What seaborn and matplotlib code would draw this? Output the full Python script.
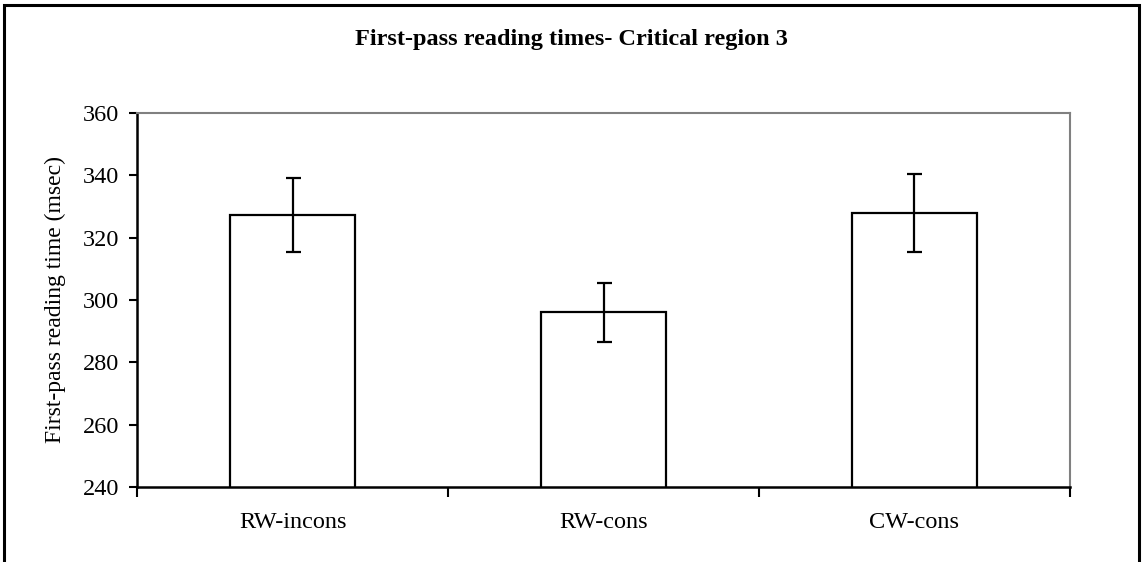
import seaborn as sns
import matplotlib.pyplot as plt
import pandas as pd
from matplotlib.patches import Rectangle
from matplotlib.ticker import FixedLocator

conditions = ['RW-incons', 'RW-cons', 'CW-cons']
means = [327.2, 296.0, 328.0]
errors = [11.8, 9.6, 12.5]

sns.set_style('white')
plt.rcParams['font.family'] = ['Liberation Serif', 'DejaVu Serif']
plt.rcParams.update({'text.color': 'black', 'axes.labelcolor': 'black',
                     'xtick.color': 'black', 'ytick.color': 'black'})

df = pd.DataFrame({'condition': conditions, 'time': means})

fig = plt.figure(figsize=(11.43, 5.62), dpi=100)
ax = fig.add_axes([0.1199, 0.1335, 0.9361 - 0.1199, 0.799 - 0.1335])

sns.barplot(data=df, x='condition', y='time', color='white', edgecolor='black',
            linewidth=1.6, width=0.4, errorbar=None, ax=ax)
ax.errorbar(range(len(conditions)), means, yerr=errors, fmt='none',
            ecolor='black', elinewidth=1.6, capsize=5.4, capthick=1.6)

ax.set_ylim(240, 360)
ax.set_xlim(-0.5, 2.5)
ax.set_yticks(range(240, 361, 20))
ax.set_xlabel('')
ax.set_ylabel('First-pass reading time (msec)', fontsize=17)
ax.yaxis.set_label_coords(-0.076, 0.5)
ax.tick_params(axis='y', labelsize=17.5, length=6, width=1.5, pad=7,
               direction='out', left=True, color='black')
ax.tick_params(axis='x', which='major', labelsize=17.5, length=0, pad=18)
ax.xaxis.set_minor_locator(FixedLocator([-0.5, 0.5, 1.5, 2.5]))
ax.tick_params(axis='x', which='minor', length=7, width=1.5, direction='out',
               bottom=True, color='black')

for side in ['left', 'bottom']:
    ax.spines[side].set_color('black')
    ax.spines[side].set_linewidth(1.8)
for side in ['top', 'right']:
    ax.spines[side].set_visible(True)
    ax.spines[side].set_color('#808080')
    ax.spines[side].set_linewidth(1.5)

fig.text(0.5, 1 - 39 / 562, 'First-pass reading times- Critical region 3',
         ha='center', va='center', fontsize=17.5, fontweight='bold')

fig.patches.append(Rectangle((4 / 1143, -0.1), (1139 - 4) / 1143, 1.1 - 5 / 562,
                             transform=fig.transFigure, fill=False,
                             edgecolor='black', linewidth=2.2))

fig.savefig('out.png', dpi=100)
